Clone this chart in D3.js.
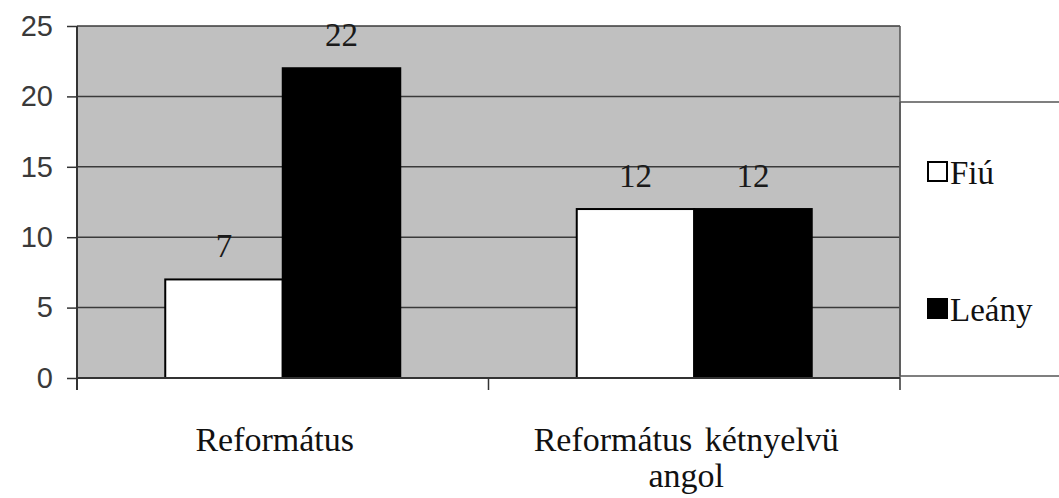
<!DOCTYPE html>
<html><head><meta charset="utf-8">
<script src="https://cdn.jsdelivr.net/npm/d3@7"></script>
<style>body{margin:0;background:#fff} .serif{font-family:"Liberation Serif","Times New Roman",serif} .sans{font-family:"Liberation Sans",Arial,sans-serif}</style>
</head><body>
<svg id="c" width="1059" height="498"></svg>
<script>
const categories = [["Református"], ["Református kétnyelvü", "angol"]];
const categoryKeys = ["Református", "Református kétnyelvü angol"];
const seriesNames = ["Fiú", "Leány"];
const fiu = [7, 12];
const leany = [22, 12];
const yTicks = [0, 5, 10, 15, 20, 25];

const svg = d3.select("#c");
const L = 77, R = 900, T = 26, B = 378;
const x = d3.scaleBand().domain(categoryKeys).range([L, R]).paddingInner(0).paddingOuter(0);
const y = d3.scaleLinear().domain([0, 25]).range([B, T]);
const inner = d3.scaleBand().domain(seriesNames).range([0, 235]);
const colors = {"Fiú": "#ffffff", "Leány": "#000000"};

svg.append("rect").attr("x", L).attr("y", T).attr("width", R - L).attr("height", B - T).attr("fill", "#c0c0c0");

svg.append("g").selectAll("line").data(yTicks).join("line")
  .attr("x1", L).attr("x2", R).attr("y1", d => y(d)).attr("y2", d => y(d))
  .attr("stroke", "#3a3a3a").attr("stroke-width", 1.5);
svg.append("line").attr("x1", R).attr("x2", R).attr("y1", T).attr("y2", B).attr("stroke", "#555").attr("stroke-width", 1.5);

const data = categoryKeys.map((c, i) => ({c, vals: [{s: "Fiú", v: fiu[i]}, {s: "Leány", v: leany[i]}]}));
const g = svg.append("g").selectAll("g").data(data).join("g")
  .attr("transform", d => `translate(${x(d.c) + (x.bandwidth() - 235) / 2},0)`);
g.selectAll("rect").data(d => d.vals).join("rect")
  .attr("x", d => inner(d.s)).attr("width", inner.bandwidth())
  .attr("y", d => y(d.v)).attr("height", d => y(0) - y(d.v))
  .attr("fill", d => colors[d.s]).attr("stroke", "#000").attr("stroke-width", 2);
g.selectAll("text").data(d => d.vals).join("text")
  .attr("class", "serif")
  .attr("x", d => inner(d.s) + inner.bandwidth() / 2).attr("y", d => y(d.v) - 22)
  .attr("text-anchor", "middle").style("font-size", "33px")
  .attr("fill", "#1a1a1a").text(d => d.v);

// y axis
const ya = svg.append("g").attr("transform", `translate(${L},0)`)
  .call(d3.axisLeft(y).tickValues(yTicks).tickSize(10).tickPadding(14));
ya.attr("font-family", null).attr("font-size", null);
ya.select(".domain").attr("stroke", "#333").attr("stroke-width", 2).attr("d", `M0,${T}V${B + 12}`);
ya.selectAll(".tick line").attr("stroke", "#333").attr("stroke-width", 1.5);
ya.selectAll(".tick text").attr("class", "sans").style("font-size", "29px").attr("fill", "#3a3a3a");

// x axis
svg.append("line").attr("x1", L).attr("x2", R).attr("y1", B).attr("y2", B).attr("stroke", "#333").attr("stroke-width", 2);
const xt = [L, ...categoryKeys.map(c => x(c) + x.bandwidth())];
svg.append("g").selectAll("line").data(xt).join("line")
  .attr("x1", d => d).attr("x2", d => d).attr("y1", B).attr("y2", B + 12)
  .attr("stroke", "#333").attr("stroke-width", 1.5);
svg.append("g").selectAll("text").data(categories.map((lines, i) => ({lines, c: categoryKeys[i]}))).join("text")
  .attr("class", "serif")
  .attr("x", d => x(d.c) + x.bandwidth() / 2 - 8).attr("y", 451)
  .attr("text-anchor", "middle").style("font-size", "34px").style("word-spacing", "4px").attr("fill", "#111")
  .selectAll("tspan").data(d => d.lines.map(l => ({l, cx: x(d.c) + x.bandwidth() / 2 - 8}))).join("tspan")
  .attr("x", d => d.cx).attr("dy", (d, i) => i ? 36 : 0).text(d => d.l);

// legend
const lg = svg.append("g");
lg.append("path").attr("d", `M${R},102H1059M${R},376H1059M${R},102V376`).attr("stroke", "#555").attr("stroke-width", 1.5).attr("fill", "none");
const legY = [172, 309];
seriesNames.forEach((s, i) => {
  lg.append("rect").attr("x", 928).attr("y", legY[i] - 10).attr("width", 19).attr("height", 19)
    .attr("fill", colors[s]).attr("stroke", "#000").attr("stroke-width", 2);
  lg.append("text").attr("class", "serif").attr("x", 950).attr("y", legY[i] + 12)
    .style("font-size", "33px").attr("fill", "#111").text(s);
});
</script>
</body></html>
